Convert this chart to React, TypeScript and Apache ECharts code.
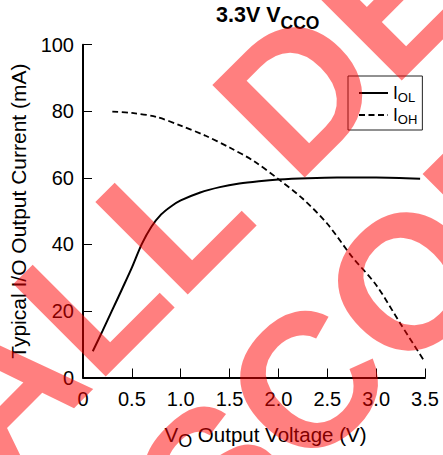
import React, { useEffect, useRef } from "react";
import * as echarts from "echarts";

const FONT = '"Liberation Sans", Arial, Helvetica, sans-serif';

const xTickValues = [0, 0.5, 1, 1.5, 2, 2.5, 3, 3.5];
const xTickLabels = ["0", "0.5", "1.0", "1.5", "2.0", "2.5", "3.0", "3.5"];

const iolVoltage = [0.1, 0.2, 0.3, 0.4, 0.5, 0.6, 0.7, 0.8, 0.9, 1.0, 1.2, 1.4, 1.6, 1.8, 2.0, 2.3, 2.6, 3.0, 3.45];
const iolCurrent = [7.9, 14.0, 20.3, 26.6, 33.0, 40.0, 45.3, 49.0, 51.4, 53.2, 55.6, 57.2, 58.3, 59.0, 59.5, 59.9, 60.1, 60.1, 59.7];

const iohVoltage = [0.3, 0.5, 0.75, 1.0, 1.25, 1.5, 1.75, 2.0, 2.25, 2.5, 2.75, 3.0, 3.25, 3.5];
const iohCurrent = [79.9, 79.5, 78.3, 75.7, 72.7, 69.1, 65.0, 59.6, 53.7, 46.2, 36.4, 27.8, 16.1, 4.6];

const watermarkLines = ["ALL DEVICES", "DISCONTINUED"];

export default function App() {
  const ref = useRef<HTMLDivElement>(null);

  useEffect(() => {
    document.body.style.margin = "0";
    const chart = echarts.init(ref.current as HTMLDivElement, null, { renderer: "svg" });

    const zip = (xs: number[], ys: number[]) => xs.map((x, i) => [x, ys[i]]);

    const wmStyle = (text: string) => ({
      text,
      font: `bold 190px ${FONT}`,
      fill: "rgba(255,0,0,0.5)",
      align: "center",
      verticalAlign: "middle",
      textAlign: "center",
      textVerticalAlign: "middle",
    });

    chart.setOption({
      animation: false,
      backgroundColor: "#fff",
      textStyle: { fontFamily: FONT },
      title: {
        text: "{a|3.3V V}{b|CCO}",
        left: 216,
        top: 3,
        padding: 0,
        textStyle: {
          rich: {
            a: { fontSize: 21.5, fontWeight: "bold", fontFamily: FONT, color: "#000", lineHeight: 24 },
            b: { fontSize: 17.5, fontWeight: "bold", fontFamily: FONT, color: "#000", lineHeight: 24, padding: [16, 0, 0, 0] },
          },
        },
      },
      legend: {
        orient: "vertical",
        left: 348,
        top: 76,
        padding: [6, 5, 4, 10],
        itemGap: 0,
        itemWidth: 29,
        itemHeight: 24,
        borderColor: "#222",
        borderWidth: 1,
        selectedMode: false,
        data: ["IOL", "IOH"],
        itemStyle: { color: "rgba(0,0,0,0)", borderWidth: 0, opacity: 0 },
        formatter: (name: string) => (name === "IOL" ? "{i|I}{s|OL}" : "{i|I}{s|OH}"),
        textStyle: {
          rich: {
            i: { fontSize: 17.5, fontFamily: FONT, color: "#000", lineHeight: 14 },
            s: { fontSize: 13, fontFamily: FONT, color: "#000", lineHeight: 14, padding: [9, 0, 0, 0] },
          },
        },
      },
      grid: { left: 82, right: 18, top: 44.7, bottom: 72, containLabel: false },
      xAxis: {
        type: "value",
        min: 0,
        max: 3.5,
        interval: 0.5,
        name: "{v|V}{s|O}{t| Output Voltage (V)}",
        nameLocation: "middle",
        nameGap: 47,
        nameTextStyle: {
          padding: [0, 0, 0, 23],
          rich: {
            v: { fontSize: 20.5, fontFamily: FONT, color: "#000", lineHeight: 20 },
            s: { fontSize: 18, fontFamily: FONT, color: "#000", lineHeight: 20, padding: [13, 0, 0, 0] },
            t: { fontSize: 20.5, fontFamily: FONT, color: "#000", lineHeight: 20 },
          },
        },
        axisLine: { show: true, lineStyle: { color: "#000", width: 2 } },
        axisTick: { show: true, inside: true, length: 9, lineStyle: { color: "#000", width: 1 } },
        axisLabel: {
          margin: 11,
          fontSize: 20,
          color: "#000",
          fontFamily: FONT,
          formatter: (v: number) => {
            const i = xTickValues.findIndex((t) => Math.abs(t - v) < 1e-9);
            return i >= 0 ? xTickLabels[i] : "";
          },
        },
        splitLine: { show: false },
      },
      yAxis: {
        type: "value",
        min: 0,
        max: 100,
        interval: 20,
        name: "Typical I/O Output Current (mA)",
        nameLocation: "middle",
        nameRotate: 90,
        nameGap: 54,
        nameTextStyle: { fontSize: 21, fontFamily: FONT, color: "#000" },
        axisLine: { show: true, lineStyle: { color: "#000", width: 2 } },
        axisTick: { show: true, inside: true, length: 9, lineStyle: { color: "#000", width: 1 } },
        axisLabel: { margin: 9, fontSize: 20, color: "#000", fontFamily: FONT },
        splitLine: { show: false },
      },
      series: [
        {
          name: "IOL",
          type: "line",
          data: zip(iolVoltage, iolCurrent),
          symbol: "none",
          smooth: 0.3,
          lineStyle: { color: "#000", width: 2, type: "solid" },
          itemStyle: { color: "#000" },
        },
        {
          name: "IOH",
          type: "line",
          data: zip(iohVoltage, iohCurrent),
          symbol: "none",
          smooth: 0.3,
          lineStyle: { color: "#000", width: 1.8, type: [6, 3.5] },
          itemStyle: { color: "#000" },
        },
      ],
      graphic: [
        { type: "text", x: 396, y: -7, rotation: Math.PI / 4, z: 100, silent: true, style: wmStyle(watermarkLines[0]) },
        { type: "text", x: 545, y: 143, rotation: Math.PI / 4, z: 100, silent: true, style: wmStyle(watermarkLines[1]) },
      ],
    });

    return () => chart.dispose();
  }, []);

  return <div ref={ref} style={{ width: 443, height: 455 }} />;
}
